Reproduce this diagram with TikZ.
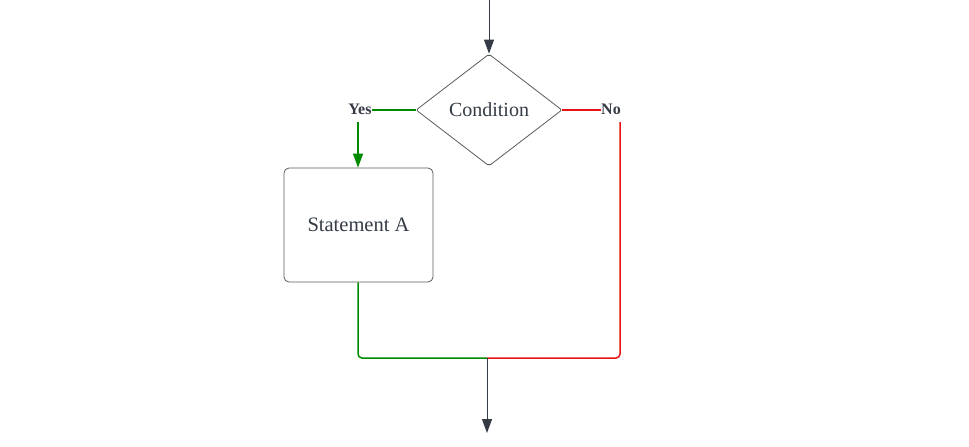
\documentclass[tikz,border=0pt]{standalone}
\usepackage{fontspec}
\setmainfont{Liberation Serif}
\usetikzlibrary{shapes.geometric,arrows.meta}
\definecolor{ink}{HTML}{343B45}
\definecolor{yesgreen}{HTML}{008A00}
\definecolor{nored}{HTML}{E81313}
\definecolor{edge}{HTML}{5A5A5A}
\tikzset{
  shapebox/.style={draw=edge, line width=0.8pt, text=ink, font=\fontsize{20}{24}\selectfont},
  lbl/.style={font=\bfseries\fontsize{16}{18}\selectfont, text=ink, inner sep=0pt},
  wire/.style={line width=1.5pt},
}
\begin{document}
\begin{tikzpicture}[x=1pt,y=-1pt]
\useasboundingbox (0,0) rectangle (969,447);
\node[shapebox, diamond, aspect=1.3, minimum width=146pt, minimum height=112pt, inner sep=0pt, rounded corners=2pt] (cond) at (489,110) {Condition};
\node[shapebox, rectangle, rounded corners=5pt, minimum width=149pt, minimum height=114pt, inner sep=0pt, font=\fontsize{20.5}{24}\selectfont] (stA) at (358.5,225) {Statement A};
\node[lbl] (yes) at (360,109) {Yes};
\node[lbl] (no) at (611,109) {No};
\coordinate (start) at (489,0);
\coordinate (nr) at (620,122);
\coordinate (yg) at (358,122);
\coordinate (m) at (487,358);
\coordinate (fin) at (487,433);
\draw[ink, line width=1pt, -{Triangle[width=10pt,length=14pt]}] (start) -- (cond.north);
\draw[yesgreen, wire] (cond.west) -- (yes.east |- cond.west);
\draw[yesgreen, wire, -{Triangle[width=10pt,length=14pt]}] (yg) -- (stA.north -| yg);
\draw[nored, wire] (cond.east) -- (no.west |- cond.east);
\draw[nored, wire, rounded corners=4pt] (nr) |- (m);
\draw[yesgreen, wire, rounded corners=4pt] (stA.south -| yg) |- (m);
\draw[ink, line width=1pt, -{Triangle[width=10pt,length=14pt]}] (m) -- (fin);
\end{tikzpicture}
\end{document}
